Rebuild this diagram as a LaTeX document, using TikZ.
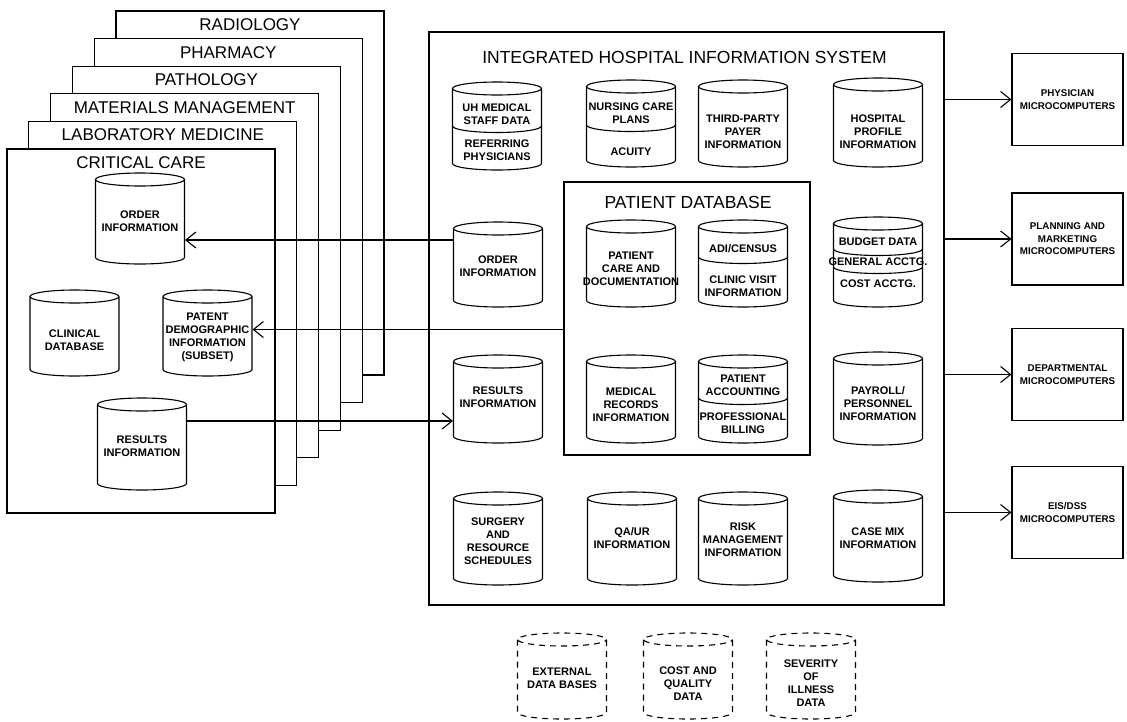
\documentclass[tikz,border=0pt]{standalone}
\usepackage{fontspec}
\setmainfont{Liberation Sans}
\usetikzlibrary{arrows.meta}
\tikzset{>={Straight Barb[length=10pt,width=16pt]}}
\tikzset{
    deptbox/.style={draw,fill=white,minimum width=268pt,minimum height=364pt,inner sep=0pt},
    depttitle/.style={font=\fontsize{17}{20}\selectfont,inner sep=0pt,anchor=base},
    bigtitle/.style={font=\fontsize{17.5}{20}\selectfont,inner sep=0pt},
    dbtext/.style={align=center,inner sep=0pt,minimum width=89pt,font=\fontsize{11}{13}\selectfont\bfseries},
    micro/.style={draw,align=center,minimum width=111pt,minimum height=92pt,inner sep=0pt,font=\fontsize{9.8}{12.5}\selectfont\bfseries},
    ext/.style={dash pattern=on 6pt off 5pt},
}
\def\rw{44.5}
\def\ry{6.5}
% database drum: [style]{centre x}{top}{bottom}
\newcommand{\drum}[4][]{%
  \draw[#1] ({#2-\rw},{-#3-\ry}) -- ({#2-\rw},{-#4+\ry})
    arc[start angle=180,end angle=360,x radius=\rw,y radius=\ry]
    -- ({#2+\rw},{-#3-\ry})
    arc[start angle=0,end angle=180,x radius=\rw,y radius=\ry]
    arc[start angle=180,end angle=360,x radius=\rw,y radius=\ry];}
\newcommand{\drumcut}[2]{%
  \draw ({#1-\rw},{-#2}) arc[start angle=180,end angle=360,x radius=\rw,y radius=\ry];}

\begin{document}
\begin{tikzpicture}[x=1pt,y=1pt,line width=1.1pt]
\useasboundingbox (0,0) rectangle (1127,-721);

\foreach \i/\nm/\txt in {5/radiology/RADIOLOGY,4/pharmacy/PHARMACY,3/pathology/PATHOLOGY,
    2/materials/MATERIALS MANAGEMENT,1/labmed/LABORATORY MEDICINE,0/critcare/CRITICAL CARE}{
    \node[deptbox] (\nm) at ({141+21.8*\i},{-331+27.6*\i}) {};
    \node[depttitle] at ([yshift=-20pt]\nm.north) {\txt};
}

\begin{scope}[every node/.style={dbtext}]
    \drum{140}{173}{264}
    \node (cOrder) at (140,-221) {ORDER\\INFORMATION};
    \drum{74.5}{290}{376}
    \node (cClin) at (74.5,-340) {CLINICAL\\DATABASE};
    \drum{207.5}{290}{376}
    \node (cDemo) at (207.5,-337.5) {PATENT\\DEMOGRAPHIC\\INFORMATION\\(SUBSET)};
    \drum{142}{398}{490}
    \node (cRes) at (142,-446) {RESULTS\\INFORMATION};
\end{scope}

\node[draw,minimum width=515pt,minimum height=573pt] (ihis) at (686.5,-318.5) {};
\node[bigtitle] (ihisT) at (684.5,-57) {INTEGRATED HOSPITAL INFORMATION SYSTEM};
\node[draw,minimum width=246pt,minimum height=273pt] (pdb) at (687,-318.5) {};
\node[bigtitle] (pdbT) at (688,-202) {PATIENT DATABASE};

\begin{scope}[every node/.style={dbtext}]
    \drum{497}{82}{170} \drumcut{497}{126}
    \node (uhStaff) at (497,-114) {UH MEDICAL\\STAFF DATA};
    \node (uhRef) at (497,-150) {REFERRING\\PHYSICIANS};
    \drum{631}{80}{167} \drumcut{631}{125}
    \node (nurse) at (631,-113) {NURSING CARE\\PLANS};
    \node (acuity) at (631,-152) {ACUITY};
    \drum{743}{80}{167}
    \node (payer) at (743,-132) {THIRD-PARTY\\PAYER\\INFORMATION};
    \drum{878}{78}{167}
    \node (profile) at (878,-132) {HOSPITAL\\PROFILE\\INFORMATION};

    \drum{498}{222}{307}
    \node (mOrder) at (498,-266) {ORDER\\INFORMATION};
    \drum{631}{220}{307}
    \node (care) at (631,-269) {PATIENT\\CARE AND\\DOCUMENTATION};
    \drum{743}{220}{307} \drumcut{743}{257}
    \node (adt) at (743,-249) {ADI/CENSUS};
    \node (clinic) at (743,-286) {CLINIC VISIT\\INFORMATION};
    \drum{878}{217}{307} \drumcut{878}{249} \drumcut{878}{267}
    \node (budget) at (878,-242) {BUDGET DATA};
    \node (genAcc) at (878,-262) {GENERAL ACCTG.};
    \node (costAcc) at (878,-284) {COST ACCTG.};

    \drum{498}{355}{443}
    \node (mRes) at (498,-397) {RESULTS\\INFORMATION};
    \drum{631}{355}{443}
    \node (medRec) at (631,-405) {MEDICAL\\RECORDS\\INFORMATION};
    \drum{743}{355}{443} \drumcut{743}{398}
    \node (patAcc) at (743,-385) {PATIENT\\ACCOUNTING};
    \node (proBill) at (743,-423) {PROFESSIONAL\\BILLING};
    \drum{878}{352}{445}
    \node (payroll) at (878,-404) {PAYROLL/\\PERSONNEL\\INFORMATION};

    \drum{498}{492}{585}
    \node (surgery) at (498,-541) {SURGERY\\AND\\RESOURCE\\SCHEDULES};
    \drum{632}{492}{585}
    \node (qaur) at (632,-538) {QA/UR\\INFORMATION};
    \drum{743}{492}{585}
    \node (risk) at (743,-540) {RISK\\MANAGEMENT\\INFORMATION};
    \drum{878}{490}{582}
    \node (casemix) at (878,-538) {CASE MIX\\INFORMATION};

    \drum[ext]{562}{633}{719}
    \node (extDB) at (562,-678) {EXTERNAL\\DATA BASES};
    \drum[ext]{688}{633}{719}
    \node (costQ) at (688,-684) {COST AND\\QUALITY\\DATA};
    \drum[ext]{811}{633}{719}
    \node (severity) at (811,-683) {SEVERITY\\OF\\ILLNESS\\DATA};
\end{scope}

\node[micro] (phys) at (1067.5,-99.5) {PHYSICIAN\\MICROCOMPUTERS};
\node[micro] (plan) at (1067.5,-239) {PLANNING AND\\MARKETING\\MICROCOMPUTERS};
\node[micro] (dept) at (1067.5,-374.5) {DEPARTMENTAL\\MICROCOMPUTERS};
\node[micro] (eis) at (1067.5,-512.5) {EIS/DSS\\MICROCOMPUTERS};

\foreach \m in {phys,plan,dept,eis}
    \draw[->] (ihis.east |- \m.west) -- (\m.west);

\draw[<-] ([yshift=-19pt]cOrder.east) -- ([yshift=-19pt]cOrder.east -| mOrder.west);
\draw[<-] ([yshift=8pt]cDemo.east) -- ([yshift=8pt]cDemo.east -| pdb.west);
\draw[->] ([yshift=25pt]cRes.east) -- ([yshift=25pt]cRes.east -| mRes.west);
\end{tikzpicture}
\end{document}
